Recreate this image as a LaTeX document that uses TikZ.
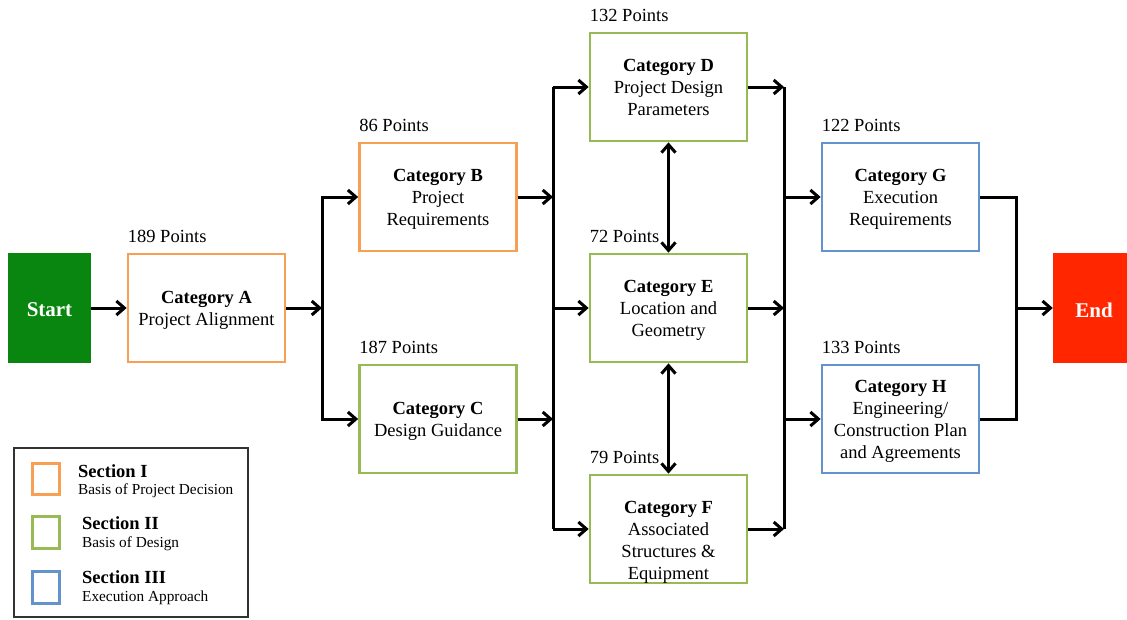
\documentclass[tikz,border=0pt]{standalone}
\usepackage{fontspec}
\setmainfont{Liberation Serif}
\usetikzlibrary{arrows.meta,calc}
\definecolor{secone}{RGB}{247,160,84}
\definecolor{sectwo}{RGB}{152,186,84}
\definecolor{secthree}{RGB}{98,147,204}
\definecolor{startgreen}{RGB}{8,134,16}
\definecolor{endred}{RGB}{255,38,0}
\definecolor{legendframe}{RGB}{50,50,50}
\begin{document}
\begin{tikzpicture}[x=1pt,y=-1pt,
  catbox/.style={draw=#1, line width=2.7pt, minimum width=157pt, minimum height=108pt, inner sep=0pt},
  cattext/.style={align=center, inner sep=0pt, font=\fontsize{18.5}{22}\selectfont,
    execute at begin node=\strut, execute at end node=\strut},
  pts/.style={anchor=base west, inner sep=0pt, font=\fontsize{18.5}{22}\selectfont},
  termbox/.style={fill=#1, minimum height=110pt, inner sep=0pt},
  termtext/.style={text=white, font=\fontsize{21}{24}\selectfont\bfseries, inner sep=0pt},
  arr/.style={line width=3pt, -{Straight Barb[length=8pt,width=14pt]}},
  dblarr/.style={line width=3pt, {Straight Barb[length=8pt,width=14pt]}-{Straight Barb[length=8pt,width=14pt]}},
  wire/.style={line width=3pt},
  keybox/.style={draw=#1, line width=2.7pt, minimum width=27.5pt, minimum height=31.5pt, inner sep=0pt},
  keyhead/.style={anchor=base west, inner sep=0pt, font=\fontsize{18.5}{22}\selectfont\bfseries},
  keysub/.style={anchor=base west, inner sep=0pt, font=\fontsize{15.3}{18}\selectfont}]
\useasboundingbox (0,0) rectangle (1127,619);

% start and end blocks
\node[termbox=startgreen, minimum width=83pt] (start) at (49.5,308) {};
\node[termtext] (startlbl) at (49.5,310) {Start};
\node[termbox=endred, minimum width=74pt] (end) at (1090,308) {};
\node[termtext] (endlbl) at (1094,310) {End};

% category boxes
\node[catbox=secone] (A) at (206.5,308) {};
\node[catbox=secone] (B) at (438,197) {};
\node[catbox=sectwo] (C) at (438,419) {};
\node[catbox=sectwo] (D) at (668.5,87) {};
\node[catbox=sectwo] (E) at (668.5,308) {};
\node[catbox=sectwo] (F) at (668.5,529) {};
\node[catbox=secthree] (G) at (900.5,197) {};
\node[catbox=secthree] (H) at (900.5,419) {};

% box texts
\node[cattext] (At) at ($(A)+(0,3.6)$) {\textbf{Category A}\\Project Alignment};
\node[cattext] (Bt) at ($(B)+(0,3.6)$) {\textbf{Category B}\\Project\\Requirements};
\node[cattext] (Ct) at ($(C)+(0,3.6)$) {\textbf{Category C}\\Design Guidance};
\node[cattext] (Dt) at ($(D)+(0,3.6)$) {\textbf{Category D}\\Project Design\\Parameters};
\node[cattext] (Et) at ($(E)+(0,3.6)$) {\textbf{Category E}\\Location and\\Geometry};
\node[cattext] (Ft) at ($(F)+(0,14.6)$) {\textbf{Category F}\\Associated\\Structures \&\\Equipment};
\node[cattext] (Gt) at ($(G)+(0,3.6)$) {\textbf{Category G}\\Execution\\Requirements};
\node[cattext] (Ht) at ($(H)+(0,3.6)$) {\textbf{Category H}\\Engineering/\\Construction Plan\\and Agreements};

% point totals
\node[pts] (Ap) at ([xshift=1pt,yshift=10pt]A.north west) {189 Points};
\node[pts] (Bp) at ([xshift=1pt,yshift=10pt]B.north west) {86 Points};
\node[pts] (Cp) at ([xshift=1pt,yshift=10pt]C.north west) {187 Points};
\node[pts] (Dp) at ([xshift=1pt,yshift=10pt]D.north west) {132 Points};
\node[pts] (Ep) at ([xshift=1pt,yshift=10pt]E.north west) {72 Points};
\node[pts] (Fp) at ([xshift=1pt,yshift=10pt]F.north west) {79 Points};
\node[pts] (Gp) at ([xshift=1pt,yshift=10pt]G.north west) {122 Points};
\node[pts] (Hp) at ([xshift=1pt,yshift=10pt]H.north west) {133 Points};

% junction points
\coordinate (j1) at (322,308);
\coordinate (j2) at (553,308);
\coordinate (j3) at (784,308);
\coordinate (j4) at (1016,308);

% connectors
\draw[arr] (start) -- (A);
\draw[arr] (A.east) -- (j1);
\draw[arr] (j1) |- (B.west);
\draw[arr] (j1) |- (C.west);

\draw[arr] (B.east) -- (B.east -| j2);
\draw[arr] (C.east) -- (C.east -| j2);
\draw[wire] (j2 |- D.west) -- (j2 |- F.west);
\draw[arr] (j2 |- D.west) -- (D.west);
\draw[arr] (j2) -- (E.west);
\draw[arr] (j2 |- F.west) -- (F.west);

\draw[arr] (D.east) -- (D.east -| j3);
\draw[arr] (E.east) -- (j3);
\draw[arr] (F.east) -- (F.east -| j3);
\draw[wire] (j3 |- D.east) -- (j3 |- F.east);
\draw[arr] (j3) |- (G.west);
\draw[arr] (j3) |- (H.west);

\draw[wire] (G.east) -- (G.east -| j4) -- (H.east -| j4) -- (H.east);
\draw[arr] (j4) -- (end.west);

\draw[dblarr] (D.south) -- (E.north);
\draw[dblarr] (E.south) -- (F.north);

% legend
\draw[draw=legendframe, line width=1.6pt] (14,448) rectangle (248,617);
\node[keybox=secone] (k1) at (46,479) {};
\node[keybox=sectwo] (k2) at (46,532.5) {};
\node[keybox=secthree] (k3) at (46,587.5) {};
\node[keyhead] (k1h) at (78,477) {Section I};
\node[keysub] (k1s) at (78,494) {Basis of Project Decision};
\node[keyhead] (k2h) at (82,529) {Section II};
\node[keysub] (k2s) at (82,547) {Basis of Design};
\node[keyhead] (k3h) at (82,583) {Section III};
\node[keysub] (k3s) at (82,601) {Execution Approach};
\end{tikzpicture}
\end{document}
